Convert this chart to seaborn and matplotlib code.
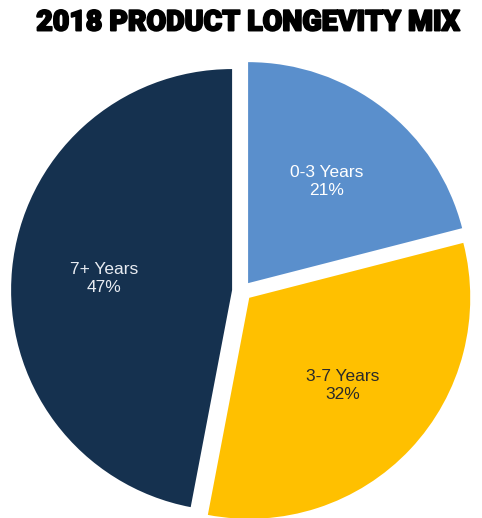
import matplotlib
matplotlib.use("Agg")
import matplotlib.pyplot as plt
import matplotlib.patheffects as pe
import seaborn as sns

# Product longevity shares for 2018
categories = ["0-3 Years", "3-7 Years", "7+ Years"]
shares = [21, 32, 47]
slice_colors = ["#5A8FCC", "#FFC000", "#15314F"]
label_colors = ["#FFFFFF", "#2A2A2A", "#E8ECF2"]

sns.set_theme(style="white")
plt.rcParams["font.family"] = ["Liberation Sans", "DejaVu Sans"]

fig = plt.figure(figsize=(4.82, 5.18), dpi=100)
ax = fig.add_axes([0, 0, 1, 1])

wedges, _, autotexts = ax.pie(
    shares,
    colors=sns.color_palette(slice_colors),
    explode=[0.045] * len(shares),
    startangle=90,
    counterclock=False,
    radius=1.0,
    autopct="%d%%",
    pctdistance=0.58,
    wedgeprops=dict(linewidth=0),
)

for txt, name, val, col in zip(autotexts, categories, shares, label_colors):
    txt.set_text(f"{name}\n{val}%")
    txt.set_color(col)
    txt.set_fontsize(12.5)
    txt.set_linespacing(1.25)

ax.set_xlim(-242 / 221, 240 / 221)
ax.set_ylim(-227 / 221, 291 / 221)
ax.set_aspect("equal", adjustable="datalim")
ax.axis("off")

title = fig.text(
    0.515, 1 - 23 / 518, "2018 PRODUCT LONGEVITY MIX",
    ha="center", va="center", fontsize=20.5, fontweight="black",
    family=["Roboto", "DejaVu Sans"], color="#000000",
)
title.set_path_effects([pe.withStroke(linewidth=1.4, foreground="#000000")])

fig.savefig("out.png", dpi=100, facecolor="white")
